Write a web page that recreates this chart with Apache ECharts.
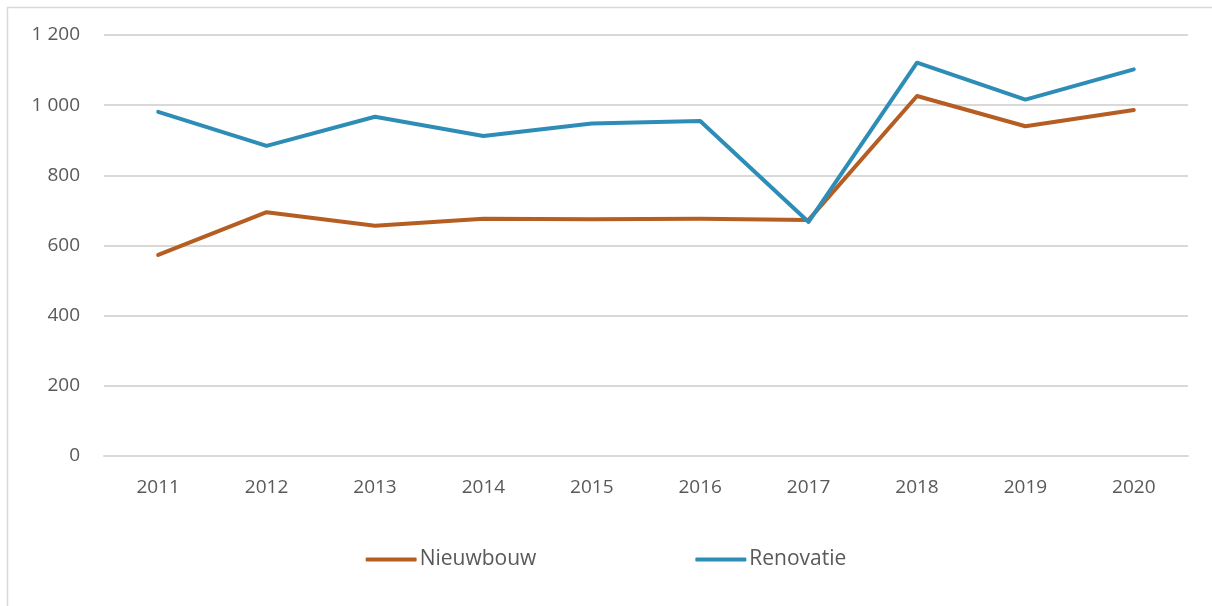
<!DOCTYPE html>
<html>
<head>
<meta charset="utf-8">
<script src="https://cdn.jsdelivr.net/npm/echarts@6/dist/echarts.min.js"></script>
<style>
  html, body { margin: 0; padding: 0; background: #fff; }
  #chart { width: 1212px; height: 606px; }
</style>
</head>
<body>
<div id="chart"></div>
<script>
const years = ['2011', '2012', '2013', '2014', '2015', '2016', '2017', '2018', '2019', '2020'];
const nieuwbouw = [573, 695, 656, 676, 675, 676, 673, 1026, 940, 986];
const renovatie = [981, 884, 967, 912, 948, 955, 667, 1121, 1016, 1102];

const textColor = '#595959';
const font = 'Open Sans';

const chart = echarts.init(document.getElementById('chart'));

chart.setOption({
  animation: false,
  textStyle: { fontFamily: font },
  grid: { left: 104, right: 24, top: 35, bottom: 150 },
  graphic: [
    { type: 'line', shape: { x1: 7, y1: 7.5, x2: 1212, y2: 7.5 }, style: { stroke: '#d9d9d9', lineWidth: 1.5 } },
    { type: 'line', shape: { x1: 7.5, y1: 7, x2: 7.5, y2: 606 }, style: { stroke: '#d9d9d9', lineWidth: 1.5 } }
  ],
  legend: {
    bottom: 31,
    left: 'center',
    itemWidth: 51,
    itemHeight: 4,
    itemGap: 159,
    icon: 'roundRect',
    textStyle: { color: textColor, fontSize: 21, fontFamily: font, padding: [0, 0, 0, -2] },
    data: ['Nieuwbouw', 'Renovatie']
  },
  xAxis: {
    type: 'category',
    data: years,
    boundaryGap: true,
    axisLine: { show: true, lineStyle: { color: '#d9d9d9', width: 2 } },
    axisTick: { show: false },
    axisLabel: { color: textColor, fontSize: 19, margin: 22 }
  },
  yAxis: {
    type: 'value',
    min: 0,
    max: 1200,
    interval: 200,
    axisLine: { show: false },
    axisTick: { show: false },
    splitLine: { lineStyle: { color: '#d9d9d9', width: 2 } },
    axisLabel: {
      color: textColor,
      fontSize: 19,
      margin: 24,
      formatter: v => String(v).replace(/\B(?=(\d{3})+(?!\d))/g, ' ')
    }
  },
  series: [
    {
      name: 'Nieuwbouw',
      type: 'line',
      data: nieuwbouw,
      symbol: 'none',
      color: '#b55d22',
      lineStyle: { width: 4, cap: 'round', join: 'round' }
    },
    {
      name: 'Renovatie',
      type: 'line',
      data: renovatie,
      symbol: 'none',
      color: '#2e8db6',
      lineStyle: { width: 4, cap: 'round', join: 'round' }
    }
  ]
});
</script>
</body>
</html>
